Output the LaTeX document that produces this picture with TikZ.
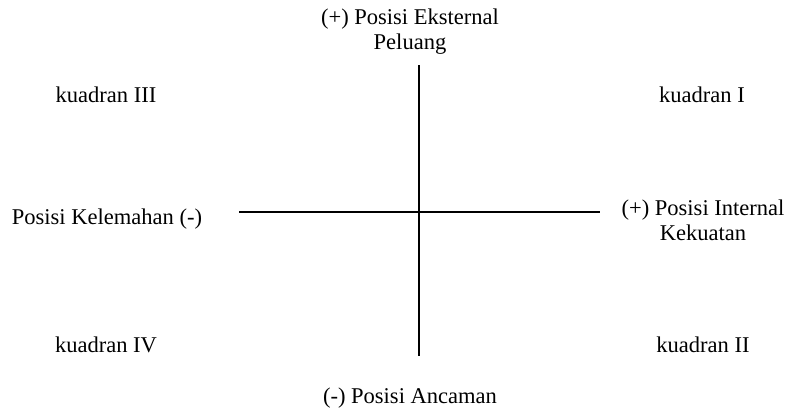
\documentclass[tikz,border=0pt]{standalone}
\usepackage{fontspec}
\setmainfont{Liberation Serif}
\begin{document}
\begin{tikzpicture}[x=0.75pt, y=-0.75pt,
  lbl/.style={font=\fontsize{16.9}{18.75}\selectfont, align=center, inner sep=0pt},
  axis/.style={line width=1pt}]
  \useasboundingbox (0,0) rectangle (787,410);
  % axes
  \coordinate (top) at (419,65);
  \coordinate (bottom) at (419,356);
  \coordinate (left) at (239,212);
  \coordinate (right) at (600,212);
  \draw[axis] (top) -- (bottom);
  \draw[axis] (left) -- (right);
  % axis labels
  \node[lbl] (ext) at (410,32) {(+) Posisi Eksternal\\Peluang};
  \node[lbl] (anc) at (410,398) {(-) Posisi Ancaman};
  \node[lbl] (kel) at (107,219) {Posisi Kelemahan (-)};
  \node[lbl] (int) at (703,220) {(+) Posisi Internal\\Kekuatan};
  % quadrants
  \node[lbl] (q3) at (106,95) {kuadran III};
  \node[lbl] (q1) at (702,95) {kuadran I};
  \node[lbl] (q4) at (106,345) {kuadran IV};
  \node[lbl] (q2) at (703,345) {kuadran II};
\end{tikzpicture}
\end{document}
